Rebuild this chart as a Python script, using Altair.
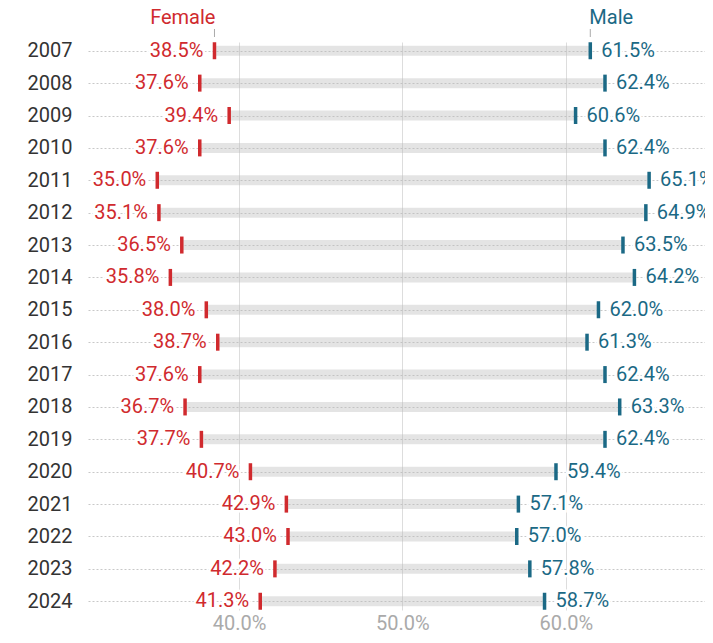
import altair as alt
import pandas as pd

years = ["2007", "2008", "2009", "2010", "2011", "2012", "2013", "2014", "2015",
         "2016", "2017", "2018", "2019", "2020", "2021", "2022", "2023", "2024"]
female = [38.5, 37.6, 39.4, 37.6, 35.0, 35.1, 36.5, 35.8, 38.0,
          38.7, 37.6, 36.7, 37.7, 40.7, 42.9, 43.0, 42.2, 41.3]
male = [61.5, 62.4, 60.6, 62.4, 65.1, 64.9, 63.5, 64.2, 62.0,
        61.3, 62.4, 63.3, 62.4, 59.4, 57.1, 57.0, 57.8, 58.7]
x_ticks = [40, 50, 60]

RED = "#d02a2e"
BLUE = "#1b6985"
FONT = "Roboto"
FS = 20

df = pd.DataFrame({"year": years, "female": female, "male": male})
df["female_lbl"] = df["female"].map(lambda v: f"{v:.1f}%")
df["male_lbl"] = df["male"].map(lambda v: f"{v:.1f}%")

W = 617
H = 568

x_scale = alt.Scale(domain=[30.76, 68.52], zero=False, nice=False)
x_axis = alt.Axis(values=x_ticks, grid=True, gridColor="#dddddd", gridWidth=1,
                  domain=False, ticks=False, labelColor="#aaaaaa", labelFont=FONT,
                  labelFontSize=FS, labelPadding=3, title=None,
                  labelExpr="format(datum.value, '.1f') + '%'")
y_enc = alt.Y("year:O", sort=years, title=None,
              scale=alt.Scale(type="point", padding=0.27),
              axis=alt.Axis(domain=False, ticks=False, grid=True,
                            gridDash=[2, 2], gridColor="#c8c8c8", gridWidth=1,
                            labelColor="#333333", labelFont=FONT, labelFontSize=FS,
                            labelPadding=16))

base = alt.Chart(df)

bars = base.mark_bar(color="#bbbbbb", opacity=0.4, size=10).encode(
    x=alt.X("female:Q", scale=x_scale, axis=x_axis),
    x2="male:Q",
    y=y_enc,
)

f_tick = base.mark_tick(color=RED, thickness=3.5, size=17, opacity=1).encode(
    x=alt.X("female:Q", scale=x_scale), y=y_enc)
m_tick = base.mark_tick(color=BLUE, thickness=3.5, size=17, opacity=1).encode(
    x=alt.X("male:Q", scale=x_scale), y=y_enc)

def label(field, txt, align, dx, color, halo):
    m = base.mark_text(align=align, baseline="middle", dx=dx, font=FONT, fontSize=FS,
                       color="white" if halo else color,
                       **({"stroke": "white", "strokeWidth": 5} if halo else {}))
    return m.encode(x=alt.X(f"{field}:Q", scale=x_scale), y=y_enc, text=f"{txt}:N")

f_halo = label("female", "female_lbl", "right", -11, RED, True)
f_lbl = label("female", "female_lbl", "right", -11, RED, False)
m_halo = label("male", "male_lbl", "left", 11, BLUE, True)
m_lbl = label("male", "male_lbl", "left", 11, BLUE, False)

first = base.transform_filter(alt.datum.year == years[0])
f_head = first.mark_text(text="Female", align="right", baseline="alphabetic", dx=1,
                         font=FONT, fontSize=FS, color=RED).encode(
    x=alt.X("female:Q", scale=x_scale), y=alt.value(-18))
m_head = first.mark_text(text="Male", align="left", baseline="alphabetic", dx=-1,
                         font=FONT, fontSize=FS, color=BLUE).encode(
    x=alt.X("male:Q", scale=x_scale), y=alt.value(-18))
f_htick = first.mark_rule(color="#aaaaaa", strokeWidth=1).encode(
    x=alt.X("female:Q", scale=x_scale), y=alt.value(-13), y2=alt.value(-5))
m_htick = first.mark_rule(color="#aaaaaa", strokeWidth=1).encode(
    x=alt.X("male:Q", scale=x_scale), y=alt.value(-13), y2=alt.value(-5))

chart = alt.layer(
    bars, f_halo, m_halo, f_tick, m_tick, f_lbl, m_lbl,
    f_head, m_head, f_htick, m_htick,
).properties(
    width=W, height=H,
    background="white",
    autosize=alt.AutoSizeParams(type="none"),
    padding={"left": 80, "top": 34, "right": 0, "bottom": 25},
).configure_view(stroke=None)

chart.save("out.html", embed_options={"renderer": "svg", "actions": False})
